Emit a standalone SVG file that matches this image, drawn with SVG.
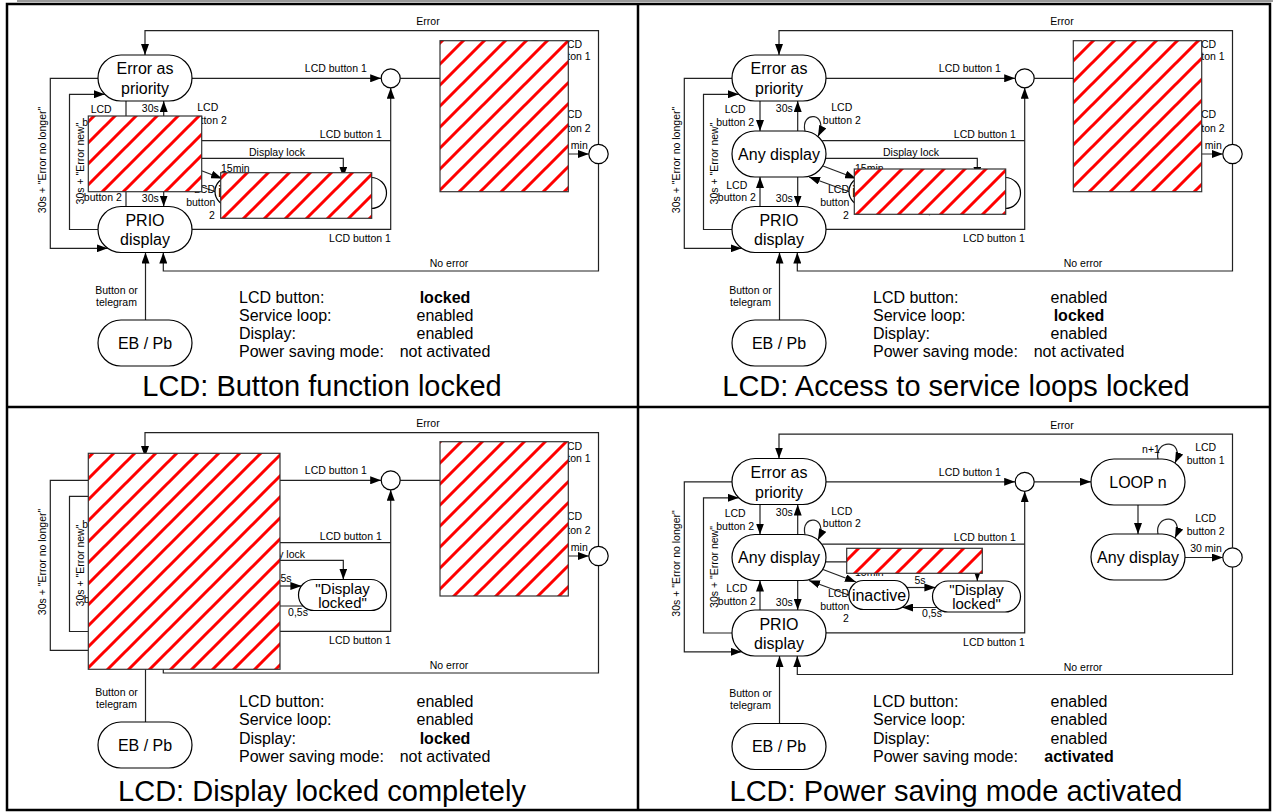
<svg xmlns="http://www.w3.org/2000/svg" width="1273" height="812" viewBox="0 0 1273 812">
<style>
text{font-family:"Liberation Sans",Arial,Helvetica,sans-serif;fill:#000}
.n rect,.n circle{fill:#fff;stroke:#000;stroke-width:1.2}
.nt{font-size:16px;text-anchor:middle}
.dl{font-size:15px;text-anchor:middle}
.lb{font-size:10.5px;text-anchor:middle}
.c path{fill:none;stroke:#222;stroke-width:1.2}
.a{marker-end:url(#ah)}
.tb{font-size:16px}
.tv{font-size:16px;text-anchor:middle}
.b{font-weight:bold}
.tt{font-size:29px;text-anchor:middle}
.h{fill:url(#hatch);stroke:#333;stroke-width:1.2}
.fr{fill:none;stroke:#000;stroke-width:2.5}
</style>
<defs>
<marker id="ah" viewBox="0 0 11 8" refX="11" refY="4" markerWidth="11" markerHeight="8" markerUnits="userSpaceOnUse" orient="auto"><path d="M0,0 L11,4 L0,8 z" fill="#000"/></marker>
<pattern id="hatch" patternUnits="userSpaceOnUse" width="21" height="21"><rect width="21" height="21" fill="#fff"/><path d="M-3,3 L3,-3 M0,21 L21,0 M18,24 L24,18" stroke="#f00" stroke-width="3"/></pattern>
<g id="sm">
 <g id="connectors" class="c">
  <path class="a" d="M598.5,144.3 V30.7 H145 V55"/>
  <path class="a" d="M598.5,163.7 V271 H163.3 V252.5"/>
  <path class="a" d="M145.5,320 V252.5"/>
  <path class="a" d="M192,78.3 H381.2"/>
  <path d="M188.3,140.7 H390.7"/>
  <path class="a" d="M192,229.3 H390.7 V87.8"/>
  <path class="a" d="M400.2,78.3 H457"/>
  <path class="a" d="M504,101.5 V130.5"/>
  <path class="a" d="M551,154 H588.8"/>
  <path class="a" d="M524,55.5 C520,35 552,35 541,59.5"/>
  <path class="a" d="M524,130.5 C520,110 552,110 541,134.5"/>
  <path class="a" d="M126,101 V131"/>
  <path class="a" d="M163.7,131 V101"/>
  <path class="a" d="M163.7,177 V206.5"/>
  <path class="a" d="M126,206.5 V177"/>
  <path class="a" d="M171,131.2 C166,110 196,112 184,136.5"/>
  <path class="a" d="M191.8,158.3 H343.3 V177.5"/>
  <path class="a" d="M189,166 L222,178.5"/>
  <path class="a" d="M216,192 L175,177"/>
  <path class="a" d="M273,184 H301.4"/>
  <path class="a" d="M303,204 H268"/>
  <path class="a" d="M98,78.3 H50.3 V248.3 H107.7"/>
  <path class="a" d="M98,229.5 H69.5 V94.3 H104.8"/>
 </g>
 <g id="labels" class="lb">
  <text x="428" y="25">Error</text>
  <text x="449" y="267">No error</text>
  <text x="116.5" y="293.5">Button or</text>
  <text x="116.5" y="305.5">telegram</text>
  <text x="335.8" y="72">LCD button 1</text>
  <text x="350.8" y="137.5">LCD button 1</text>
  <text x="360" y="242">LCD button 1</text>
  <text x="517" y="49">n+1</text>
  <text x="571.7" y="47.7">LCD</text>
  <text x="571.7" y="60.3">button 1</text>
  <text x="571.7" y="118">LCD</text>
  <text x="571.7" y="131.5">button 2</text>
  <text x="572" y="148.5">30 min</text>
  <text x="101.2" y="113">LCD</text>
  <text x="101.2" y="126">button 2</text>
  <text x="150.3" y="112">30s</text>
  <text x="207.8" y="111">LCD</text>
  <text x="207.8" y="123.7">button 2</text>
  <text x="150.3" y="202">30s</text>
  <text x="102.8" y="188.7">LCD</text>
  <text x="102.8" y="201">button 2</text>
  <text x="277" y="156">Display lock</text>
  <text x="235.3" y="172">15min</text>
  <text x="204.5" y="193">LCD</text>
  <text x="200.8" y="206">button</text>
  <text x="212" y="218.7">2</text>
  <text x="286" y="180">5s</text>
  <text x="298" y="213.5">0,5s</text>
  <text transform="translate(45.5,160) rotate(-90)">30s + "Error no longer"</text>
  <text transform="translate(83.8,163.5) rotate(-90)">30s + "Error new"</text>
 </g>
 <g id="n-errp" class="n"><rect x="98" y="55" width="94" height="46" rx="23"/><text class="nt" x="145" y="74">Error as</text><text class="nt" x="145" y="94">priority</text></g>
 <g id="n-any" class="n"><rect x="98" y="131" width="94" height="46" rx="23"/><text class="nt" x="145" y="159.5">Any display</text></g>
 <g id="n-prio" class="n"><rect x="98" y="206.5" width="94" height="46" rx="23"/><text class="nt" x="145" y="226">PRIO</text><text class="nt" x="145" y="245">display</text></g>
 <g id="n-ebpb" class="n"><rect x="98" y="320" width="94" height="46" rx="23"/><text class="nt" x="145" y="348.5">EB / Pb</text></g>
 <g id="n-inactive" class="n"><rect x="215" y="177" width="60" height="29" rx="14.5"/><text class="nt" x="245" y="197">inactive</text></g>
 <g id="n-dlocked" class="n"><rect x="298.5" y="177.5" width="88" height="31" rx="15.5"/><text class="dl" x="342.5" y="191.5">"Display</text><text class="dl" x="342.5" y="205.5">locked"</text></g>
 <g id="n-loop" class="n"><rect x="457" y="55.5" width="94" height="46" rx="23"/><text class="nt" x="504" y="84">LOOP n</text></g>
 <g id="n-any2" class="n"><rect x="457" y="130.5" width="94" height="46" rx="23"/><text class="nt" x="504" y="159">Any display</text></g>
 <g id="n-jl" class="n"><circle cx="390.7" cy="78.3" r="9.5"/></g>
 <g id="n-jr" class="n"><circle cx="598.5" cy="154" r="9.7"/></g>
</g>
</defs>
<rect width="1273" height="812" fill="#fff"/>
<rect x="17" y="0" width="1256" height="2" fill="#999"/>

<g id="panel1">
 <use href="#sm"/>
 <rect class="h" x="88.3" y="116" width="113.4" height="75.7"/>
 <rect class="h" x="220.7" y="172.7" width="151" height="45.6"/>
 <rect class="h" x="440" y="40.7" width="128.3" height="151"/>
 <text class="tb" x="239" y="302.5">LCD button:</text><text class="tv b" x="445" y="302.5">locked</text>
 <text class="tb" x="239" y="320.5">Service loop:</text><text class="tv" x="445" y="320.5">enabled</text>
 <text class="tb" x="239" y="338.5">Display:</text><text class="tv" x="445" y="338.5">enabled</text>
 <text class="tb" x="239" y="356.5">Power saving mode:</text><text class="tv" x="445" y="356.5">not activated</text>
 <text class="tt" x="322" y="396">LCD: Button function locked</text>
</g>

<g id="panel2">
 <use href="#sm" transform="translate(634,0)"/>
 <rect class="h" x="854.3" y="169" width="151.4" height="45.3"/>
 <rect class="h" x="1073.3" y="40.7" width="128.4" height="151"/>
 <text class="tb" x="873" y="302.5">LCD button:</text><text class="tv" x="1079" y="302.5">enabled</text>
 <text class="tb" x="873" y="320.5">Service loop:</text><text class="tv b" x="1079" y="320.5">locked</text>
 <text class="tb" x="873" y="338.5">Display:</text><text class="tv" x="1079" y="338.5">enabled</text>
 <text class="tb" x="873" y="356.5">Power saving mode:</text><text class="tv" x="1079" y="356.5">not activated</text>
 <text class="tt" x="956" y="396">LCD: Access to service loops locked</text>
</g>

<g id="panel3">
 <use href="#sm" transform="translate(0,402)"/>
 <rect class="h" x="88.3" y="453.3" width="191.7" height="216"/>
 <rect class="h" x="440" y="441.7" width="128.3" height="154.3"/>
 <text class="tb" x="239" y="706.5">LCD button:</text><text class="tv" x="445" y="706.5">enabled</text>
 <text class="tb" x="239" y="725">Service loop:</text><text class="tv" x="445" y="725">enabled</text>
 <text class="tb" x="239" y="743.5">Display:</text><text class="tv b" x="445" y="743.5">locked</text>
 <text class="tb" x="239" y="762">Power saving mode:</text><text class="tv" x="445" y="762">not activated</text>
 <text class="tt" x="322" y="801">LCD: Display locked completely</text>
</g>

<g id="panel4">
 <use href="#sm" transform="translate(634,403.5)"/>
 <rect class="h" x="846.7" y="548.3" width="135.6" height="25"/>
 <text class="tb" x="873" y="706.5">LCD button:</text><text class="tv" x="1079" y="706.5">enabled</text>
 <text class="tb" x="873" y="725">Service loop:</text><text class="tv" x="1079" y="725">enabled</text>
 <text class="tb" x="873" y="743.5">Display:</text><text class="tv" x="1079" y="743.5">enabled</text>
 <text class="tb" x="873" y="762">Power saving mode:</text><text class="tv b" x="1079" y="762">activated</text>
 <text class="tt" x="956" y="801">LCD: Power saving mode activated</text>
</g>

<path class="fr" d="M7,4 H1270 V810 H7 Z M638,4 V810 M7,407 H1270"/>
</svg>
